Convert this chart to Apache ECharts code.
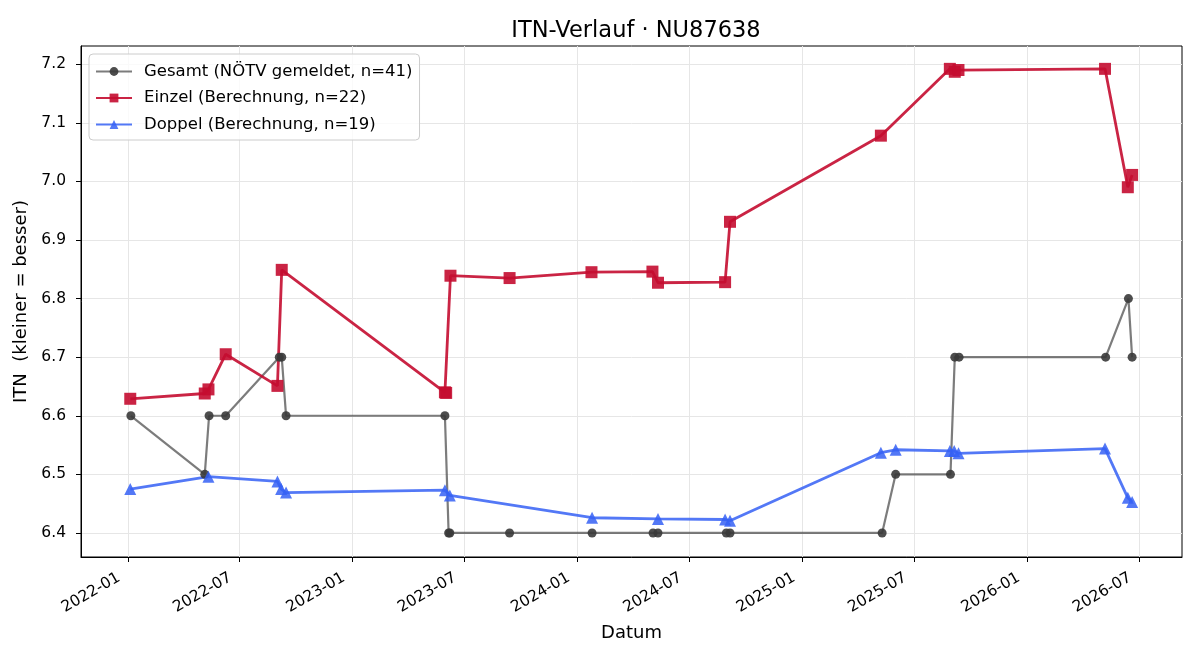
<!DOCTYPE html>
<html>
<head>
<meta charset="utf-8">
<title>ITN-Verlauf</title>
<script src="https://cdn.jsdelivr.net/npm/echarts@6/dist/echarts.min.js"></script>
<style>
  html, body { margin: 0; padding: 0; background: #fff; }
  #chart { width: 1200px; height: 660px; }
</style>
</head>
<body>
<div id="chart"></div>
<script>
// Gesamt (NÖTV gemeldet)
const gesamtDates = ['2022-01-06', '2022-05-06', '2022-05-13', '2022-06-09', '2022-09-04', '2022-09-08',
  '2022-09-15', '2023-05-31', '2023-06-06', '2023-06-08', '2023-09-13', '2024-01-25', '2024-05-03',
  '2024-05-11', '2024-08-30', '2024-09-05', '2025-05-10', '2025-06-01', '2025-08-29', '2025-09-05',
  '2025-09-12', '2026-05-08', '2026-06-14', '2026-06-20']
const gesamtValues = [6.6, 6.5, 6.6, 6.6, 6.7, 6.7,
  6.6, 6.6, 6.4, 6.4, 6.4, 6.4, 6.4,
  6.4, 6.4, 6.4, 6.4, 6.5, 6.5, 6.7,
  6.7, 6.7, 6.8, 6.7]

// Einzel (Berechnung)
const einzelDates = ['2022-01-05', '2022-05-06', '2022-05-12', '2022-06-09', '2022-09-01', '2022-09-08',
  '2023-05-31', '2023-06-02', '2023-06-09', '2023-09-13', '2024-01-24', '2024-05-02', '2024-05-11',
  '2024-08-28', '2024-09-05', '2025-05-08', '2025-08-28', '2025-09-05', '2025-09-11', '2026-05-07',
  '2026-06-13', '2026-06-20']
const einzelValues = [6.629, 6.638, 6.645, 6.705, 6.651, 6.849,
  6.640, 6.639, 6.839, 6.835, 6.845, 6.846, 6.827,
  6.828, 6.931, 7.078, 7.192, 7.187, 7.190, 7.192,
  6.990, 7.011]

// Doppel (Berechnung)
const doppelDates = ['2022-01-05', '2022-05-12', '2022-09-01', '2022-09-07', '2022-09-15', '2023-05-31',
  '2023-06-08', '2024-01-25', '2024-05-11', '2024-08-28', '2024-09-05', '2025-05-08', '2025-06-01',
  '2025-08-28', '2025-09-04', '2025-09-11', '2026-05-07', '2026-06-13', '2026-06-20']
const doppelValues = [6.475, 6.496, 6.488, 6.475, 6.469, 6.473,
  6.464, 6.426, 6.424, 6.423, 6.421, 6.537, 6.542,
  6.540, 6.540, 6.536, 6.544, 6.460, 6.453]

const seriesNames = ['Gesamt (NÖTV gemeldet, n=41)', 'Einzel (Berechnung, n=22)', 'Doppel (Berechnung, n=19)']

const xTicks = ['2022-01-01', '2022-07-01', '2023-01-01', '2023-07-01', '2024-01-01', '2024-07-01',
  '2025-01-01', '2025-07-01', '2026-01-01', '2026-07-01']
const yTicks = [6.4, 6.5, 6.6, 6.7, 6.8, 6.9, 7.0, 7.1, 7.2]

const xMin = '2021-10-17'
const xMax = '2026-09-09'
const yMin = 6.359
const yMax = 7.231

const FONT = 'DejaVu Sans'
const ts = d => echarts.number.parseDate(d).getTime()
const pairs = (dates, values) => dates.map((d, i) => [ts(d), values[i]])
const fmtMonth = v => {
  const d = new Date(v)
  return d.getFullYear() + '-' + String(d.getMonth() + 1).padStart(2, '0')
}

const chart = echarts.init(document.getElementById('chart'), null, { renderer: 'canvas' })

chart.setOption({
  animation: false,
  backgroundColor: '#fff',
  textStyle: { fontFamily: FONT },
  title: {
    text: 'ITN-Verlauf · NU87638',
    left: 631,
    top: 15,
    textAlign: 'center',
    textStyle: { fontFamily: FONT, fontSize: 22.5, fontWeight: 'normal', color: '#000' }
  },
  grid: {
    left: 81,
    right: 18,
    top: 46,
    bottom: 103,
    show: true,
    borderColor: '#000',
    borderWidth: 1,
    backgroundColor: 'transparent'
  },
  legend: {
    left: 89,
    top: 54,
    orient: 'vertical',
    itemWidth: 36,
    itemHeight: 11,
    itemGap: 9.5,
    padding: [9, 7, 7, 6],
    backgroundColor: 'rgba(255,255,255,0.8)',
    borderColor: '#ccc',
    borderWidth: 1,
    borderRadius: 4,
    textStyle: { fontFamily: FONT, fontSize: 16.5, color: '#000', padding: [0, 0, 0, 7] },
    data: seriesNames
  },
  xAxis: {
    type: 'value',
    min: ts(xMin),
    max: ts(xMax),
    name: 'Datum',
    nameLocation: 'middle',
    nameGap: 67,
    nameTextStyle: { fontFamily: FONT, fontSize: 18, color: '#000' },
    axisLine: { lineStyle: { color: '#000', width: 1 } },
    axisTick: {
      show: true,
      length: 5,
      lineStyle: { color: '#000' },
      customValues: xTicks.map(ts)
    },
    axisLabel: {
      customValues: xTicks.map(ts),
      rotate: 30,
      margin: 14.5,
      padding: [0, 10, 0, 0],
      fontFamily: FONT,
      fontSize: 15.5,
      color: '#000',
      formatter: fmtMonth
    },
    splitLine: { show: true, lineStyle: { color: '#e6e6e6', width: 1 } }
  },
  yAxis: {
    type: 'value',
    min: yMin,
    max: yMax,
    name: 'ITN  (kleiner = besser)',
    nameLocation: 'middle',
    nameGap: 46,
    nameTextStyle: { fontFamily: FONT, fontSize: 18, color: '#000' },
    axisLine: { show: true, lineStyle: { color: '#000', width: 1 } },
    axisTick: {
      show: true,
      length: 5,
      lineStyle: { color: '#000' },
      customValues: yTicks
    },
    axisLabel: {
      customValues: yTicks,
      margin: 15,
      fontFamily: FONT,
      fontSize: 15.5,
      color: '#000',
      formatter: v => v.toFixed(1)
    },
    splitLine: { show: true, lineStyle: { color: '#e6e6e6', width: 1 } }
  },
  series: [
    {
      name: seriesNames[0],
      type: 'line',
      data: pairs(gesamtDates, gesamtValues),
      symbol: 'circle',
      symbolSize: 9,
      showAllSymbol: true,
      lineStyle: { color: '#444', width: 2.2, opacity: 0.7 },
      itemStyle: { color: '#3a3a3a', opacity: 0.9 }
    },
    {
      name: seriesNames[1],
      type: 'line',
      data: pairs(einzelDates, einzelValues),
      symbol: 'rect',
      symbolSize: 12,
      showAllSymbol: true,
      lineStyle: { color: '#c40c30', width: 2.8, opacity: 0.9 },
      itemStyle: { color: '#c40c30', opacity: 0.9 }
    },
    {
      name: seriesNames[2],
      type: 'line',
      data: pairs(doppelDates, doppelValues),
      symbol: 'triangle',
      symbolSize: 12,
      showAllSymbol: true,
      lineStyle: { color: '#3560f5', width: 2.8, opacity: 0.85 },
      itemStyle: { color: '#3560f5', opacity: 0.85 }
    }
  ]
})
</script>
</body>
</html>
